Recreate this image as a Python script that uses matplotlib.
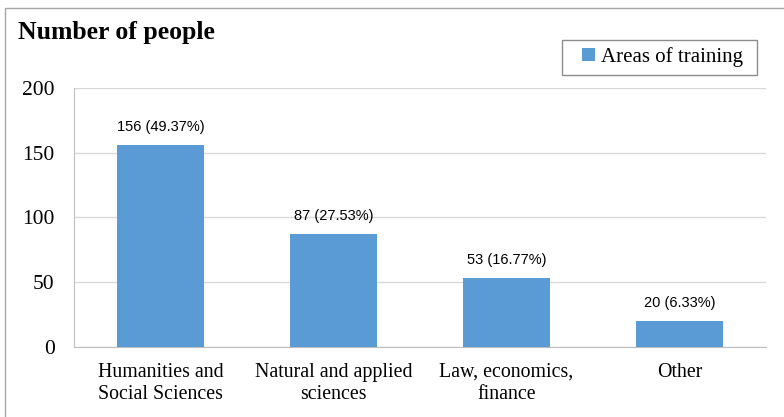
import matplotlib.pyplot as plt
from matplotlib.patches import Rectangle

categories = ["Humanities and\nSocial Sciences", "Natural and applied\nsciences",
              "Law, economics,\nfinance", "Other"]
values = [156, 87, 53, 20]
labels = ["156 (49.37%)", "87 (27.53%)", "53 (16.77%)", "20 (6.33%)"]
yticks = [0, 50, 100, 150, 200]

serif = "Liberation Serif"
sans = "Liberation Sans"
bar_color = "#5B9BD5"

fig = plt.figure(figsize=(7.84, 4.17), dpi=100)
ax = fig.add_axes([0.0944, 0.168, 0.8826, 0.621])

x = range(len(values))
bars = ax.bar(x, values, width=0.5, color=bar_color, label="Areas of training", zorder=3)
for b, lab in zip(bars, labels):
    ax.annotate(lab, (b.get_x() + b.get_width() / 2, b.get_height()),
                xytext=(0, 8), textcoords="offset points", ha="center", va="bottom",
                fontsize=10.5, family=sans)

ax.set_xlim(-0.5, len(values) - 0.5)
ax.set_ylim(0, 200)
ax.set_yticks(yticks)
ax.set_yticklabels([str(t) for t in yticks], family=serif, fontsize=15.5)
ax.set_xticks(list(x))
ax.set_xticklabels(categories, family=serif, fontsize=14.3, linespacing=1.25)
ax.tick_params(length=0, pad=14)
ax.tick_params(axis="x", pad=11.5)
ax.grid(axis="y", color="#D9D9D9", linewidth=1, zorder=0)
for s in ["top", "right"]:
    ax.spines[s].set_visible(False)
ax.spines["left"].set_color("#BFBFBF")
ax.spines["bottom"].set_color("#BFBFBF")

fig.text(18 / 784, 1 - 33 / 417, "Number of people", family=serif, fontweight="bold",
         fontsize=18.5, va="center", ha="left")

# legend without its own frame; frame drawn separately to match the wide left margin
leg = fig.legend(loc="center right", bbox_to_anchor=(743 / 784, 1 - 57 / 417),
                 prop={"family": serif, "size": 15}, frameon=False,
                 handlelength=0.6, handleheight=0.6, handletextpad=0.3,
                 borderpad=0, borderaxespad=0)
fig.patches.append(Rectangle((562 / 784, 1 - 75 / 417), 195 / 784, 35 / 417,
                             transform=fig.transFigure, fill=False,
                             edgecolor="#8C8C8C", linewidth=1))

fig.patches.append(Rectangle((5 / 784, -0.05), 1.1, 1 - 8 / 417 + 0.05, transform=fig.transFigure,
                             fill=False, edgecolor="#A6A6A6", linewidth=1))

fig.savefig("out.png", dpi=100)
